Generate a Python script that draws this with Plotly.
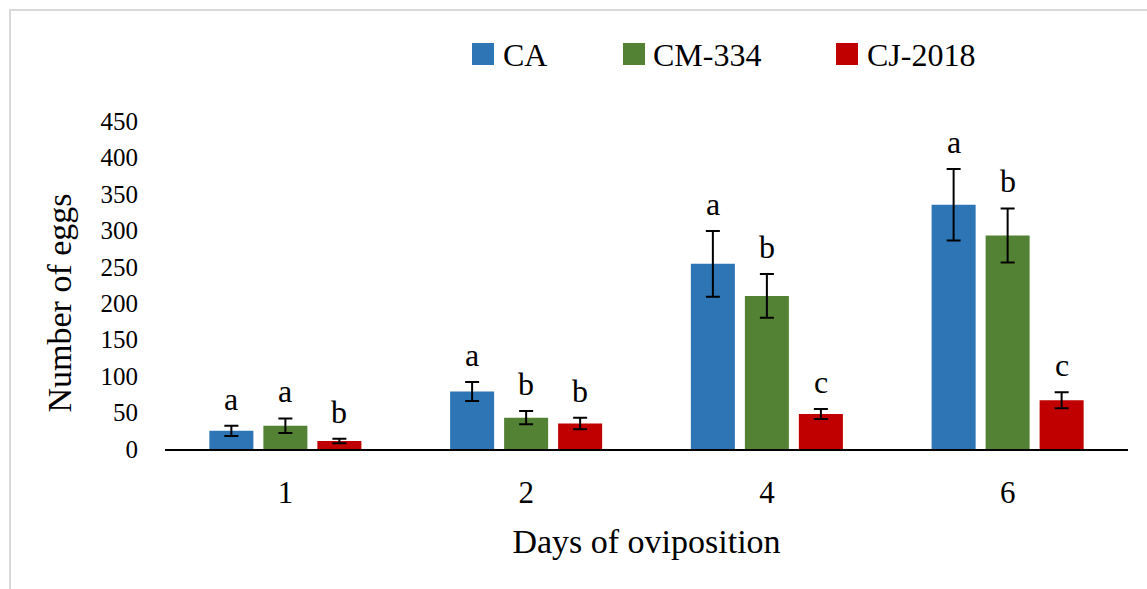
import plotly.graph_objects as go

# ---- data ----
days = ["1", "2", "4", "6"]
series_names = ["CA", "CM-334", "CJ-2018"]
ca_values = [25, 79, 254, 335]
ca_errors = [7, 13, 45, 49]
cm_values = [32, 43, 210, 293]
cm_errors = [10, 9, 30, 37]
cj_values = [11, 35, 48, 67]
cj_errors = [3, 8, 7, 11]
ca_letters = ["a", "a", "a", "a"]
cm_letters = ["a", "b", "b", "b"]
cj_letters = ["b", "b", "c", "c"]
y_ticks = [0, 50, 100, 150, 200, 250, 300, 350, 400, 450]

colors = ["#2E75B6", "#548235", "#C00000"]
FONT = "Liberation Serif"

W, H = 1147, 589
L, R, T, B = 165, 19, 121, 140
PW, PH = W - L - R, H - T - B


def px_x(p):
    return (p - L) / PW


def px_y(p):
    return (H - B - p) / PH


values = [ca_values, cm_values, cj_values]
errors = [ca_errors, cm_errors, cj_errors]
letters = [ca_letters, cm_letters, cj_letters]

BARGAP = 0.327
GROUPGAP = 0.185

fig = go.Figure()
for name, vals, errs, col in zip(series_names, values, errors, colors):
    fig.add_trace(go.Bar(
        name=name, x=days, y=vals,
        marker=dict(color=col, line=dict(width=0)),
        error_y=dict(type="data", array=errs, visible=True,
                     color="black", thickness=2, width=7),
        showlegend=False,
    ))

# letters above error bars (x given as category index)
slot = (PW / len(days)) * (1 - BARGAP) / 3
annotations = []
for i, (vals, errs, lets) in enumerate(zip(values, errors, letters)):
    for k, (v, e, t) in enumerate(zip(vals, errs, lets)):
        annotations.append(dict(
            x=k, y=v + e, xref="x", yref="y", text=t, showarrow=False,
            xshift=(i - 1) * slot, yanchor="bottom", yshift=7,
            font=dict(family=FONT, size=32, color="black")))

# y-axis title
annotations.append(dict(
    x=px_x(38), y=px_y(303), xref="paper", yref="paper",
    xanchor="left", yanchor="middle",
    text="Number of eggs", textangle=-90, showarrow=False,
    font=dict(family=FONT, size=34, color="black")))

# manual legend
legend_sq = [472, 623, 836]
legend_tx = [501, 651, 865]
shapes = []
for name, col, sx, tx in zip(series_names, colors, legend_sq, legend_tx):
    shapes.append(dict(type="rect", xref="paper", yref="paper",
                       x0=px_x(sx), x1=px_x(sx + 22),
                       y0=px_y(65), y1=px_y(43),
                       fillcolor=col, line=dict(width=0)))
    annotations.append(dict(x=px_x(tx), y=px_y(55), xref="paper", yref="paper",
                            text=name, showarrow=False, xanchor="left",
                            yanchor="middle",
                            font=dict(family=FONT, size=32, color="black")))

# outer border
shapes.append(dict(type="rect", xref="paper", yref="paper",
                   x0=px_x(10), x1=px_x(1152), y0=px_y(605), y1=px_y(10),
                   line=dict(color="#d9d9d9", width=2), fillcolor="rgba(0,0,0,0)",
                   layer="below"))

fig.update_layout(
    width=W, height=H,
    margin=dict(l=L, r=R, t=T, b=B, autoexpand=False),
    paper_bgcolor="white", plot_bgcolor="white",
    barmode="group", bargap=BARGAP, bargroupgap=GROUPGAP,
    showlegend=False,
    annotations=annotations, shapes=shapes,
    font=dict(family=FONT, color="black"),
)
fig.update_xaxes(
    type="category", range=[-0.5, len(days) - 0.5],
    showline=True, linecolor="black", linewidth=2,
    showgrid=False, ticks="", ticklabelstandoff=15,
    tickfont=dict(family=FONT, size=31, color="black"),
    title=dict(text="Days of oviposition", standoff=20,
               font=dict(family=FONT, size=34, color="black")),
    automargin=False,
)
fig.update_yaxes(
    range=[0, 450], tickvals=y_ticks, showline=False, showgrid=False,
    zeroline=False, ticks="", ticklabelstandoff=26,
    tickfont=dict(family=FONT, size=25, color="black"),
    automargin=False,
)

fig.write_html("out.html",
               config={"displayModeBar": False},
               post_script="document.body.style.margin='0';"
                           "document.body.style.overflow='hidden';")
